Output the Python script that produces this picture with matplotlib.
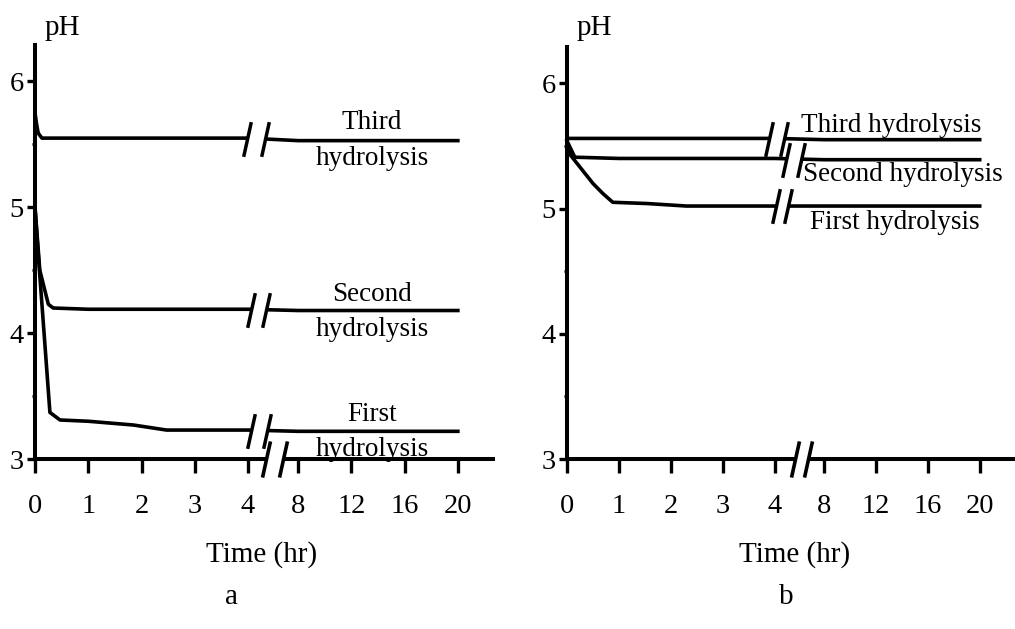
import numpy as np
import matplotlib
matplotlib.use("Agg")
import matplotlib.pyplot as plt
from matplotlib.path import Path

plt.rcParams['font.family'] = ['Liberation Serif', 'DejaVu Serif']

# ---------------- data ----------------
tick_hours = [0, 1, 2, 3, 4, 8, 12, 16, 20]
tick_labels = ["0", "1", "2", "3", "4", "8", "12", "16", "20"]
ph_ticks = [3, 4, 5, 6]

# panel a
time_a_third = [0, 0.03, 0.06, 0.13, 0.3, 1, 2, 3, 4, 8, 12, 16, 20]
ph_a_third = [5.75, 5.66, 5.59, 5.55, 5.55, 5.55, 5.55, 5.55, 5.55, 5.53, 5.53, 5.53, 5.53]
time_a_second = [0, 0.09, 0.25, 0.34, 1, 2, 3, 4, 8, 12, 16, 20]
ph_a_second = [5.0, 4.5, 4.23, 4.2, 4.19, 4.19, 4.19, 4.19, 4.18, 4.18, 4.18, 4.18]
time_a_first = [0, 0.05, 0.28, 0.47, 1, 1.85, 2.47, 3, 4, 8, 12, 16, 20]
ph_a_first = [5.0, 4.69, 3.37, 3.31, 3.3, 3.27, 3.23, 3.23, 3.23, 3.22, 3.22, 3.22, 3.22]

# panel b
time_b_third = [0, 1, 2, 3, 4, 8, 12, 16, 20]
ph_b_third = [5.56, 5.56, 5.56, 5.56, 5.56, 5.55, 5.55, 5.55, 5.55]
time_b_second = [0, 0.15, 1, 2, 3, 4, 8, 12, 16, 20]
ph_b_second = [5.54, 5.41, 5.4, 5.4, 5.4, 5.4, 5.39, 5.39, 5.39, 5.39]
time_b_first = [0, 0.06, 0.5, 0.69, 0.88, 1.54, 2.3, 3.7, 4, 8, 12, 16, 20]
ph_b_first = [5.54, 5.43, 5.2, 5.12, 5.05, 5.04, 5.02, 5.02, 5.02, 5.02, 5.02, 5.02, 5.02]

# ---------------- broken time scale ----------------
A = 0.94   # axis units taken by 4 -> 8 hr
B = 1.0    # axis units per 4 hr after 8 hr


def fwd(t):
    t = np.asarray(t, dtype=float)
    return np.where(t <= 4, t, np.where(t <= 8, 4 + (t - 4) * A / 4, 4 + A + (t - 8) * B / 4))


def inv(u):
    u = np.asarray(u, dtype=float)
    return np.where(u <= 4, u, np.where(u <= 4 + A, 4 + (u - 4) * 4 / A, 8 + (u - 4 - A) * 4 / B))


slash = Path([(-0.22, -1.0), (0.22, 1.0)], [Path.MOVETO, Path.LINETO])

fig = plt.figure(figsize=(10.15, 6.29), dpi=100)


def setup(ax):
    ax.set_xscale('function', functions=(fwd, inv))
    ax.set_xlim(0, float(inv(8.6)))
    ax.set_ylim(3, 6.29)
    for s in ['top', 'right']:
        ax.spines[s].set_visible(False)
    for s in ['left', 'bottom']:
        ax.spines[s].set_linewidth(2.9)
    ax.set_xticks(tick_hours)
    ax.set_xticklabels(tick_labels)
    ax.set_xticks([], minor=True)
    ax.set_yticks(ph_ticks)
    ax.set_yticklabels([str(v) for v in ph_ticks])
    ax.set_yticks([3.5, 4.5, 5.5], minor=True)
    ax.tick_params(axis='x', which='major', direction='out', length=10, width=2.4,
                   pad=15, labelsize=20.5)
    ax.tick_params(axis='y', which='major', direction='out', length=6, width=2.4,
                   pad=2, labelsize=20.5)
    ax.tick_params(axis='y', which='minor', direction='out', length=2.5, width=2.0)
    ax.patch.set_alpha(0)


def broken(ax, t, y, u1, u2, ybreak):
    ax.plot(t, y, color='black', lw=2.6, clip_on=False, zorder=2)
    ax.plot(inv([u1, u2]), [ybreak, ybreak], color='white', lw=7,
            solid_capstyle='butt', zorder=3, clip_on=False)
    ax.plot(inv([u1, u2]), [ybreak, ybreak], ls='none', marker=slash, ms=25,
            mew=2.5, mec='black', mfc='none', zorder=4, clip_on=False)


def axis_break(ax, u1, u2):
    ax.plot(inv([u1, u2]), [3, 3], color='white', lw=7,
            solid_capstyle='butt', zorder=3, clip_on=False)
    ax.plot(inv([u1, u2]), [3, 3], ls='none', marker=slash, ms=26,
            mew=2.6, mec='black', mfc='none', zorder=4, clip_on=False)


# ---------------- panel a ----------------
ax1 = fig.add_axes([35 / 1015, 1 - 459 / 629, 458 / 1015, 414 / 629])
setup(ax1)
broken(ax1, time_a_third, ph_a_third, 3.99, 4.32, 5.54)
broken(ax1, time_a_second, ph_a_second, 4.06, 4.33, 4.185)
broken(ax1, time_a_first, ph_a_first, 4.06, 4.36, 3.225)
axis_break(ax1, 4.34, 4.66)
lab_kw = dict(ha='center', va='center', fontsize=19.5, linespacing=1.55, zorder=5)
ax1.text(13.55, 5.53, "Third\nhydrolysis", **lab_kw)
ax1.text(13.55, 4.17, "Second\nhydrolysis", **lab_kw)
ax1.text(13.55, 3.215, "First\nhydrolysis", **lab_kw)

# ---------------- panel b ----------------
ax2 = fig.add_axes([567 / 1015, 1 - 459 / 629, 447 / 1015, 412 / 629])
setup(ax2)
broken(ax2, time_b_third, ph_b_third, 3.88, 4.17, 5.555)
broken(ax2, time_b_second, ph_b_second, 4.21, 4.5, 5.39)
broken(ax2, time_b_first, ph_b_first, 4.03, 4.25, 5.02)
axis_break(ax2, 4.38, 4.63)
lab_b = dict(ha='center', va='center', fontsize=19.5, zorder=5)
ax2.text(13.2, 5.66, "Third hydrolysis", **lab_b)
ax2.text(14.1, 5.27, "Second hydrolysis", **lab_b)
ax2.text(13.5, 4.89, "First hydrolysis", **lab_b)

# ---------------- figure texts ----------------
fig.text(45 / 1015, 1 - 35 / 629, "pH", ha='left', va='baseline', fontsize=21)
fig.text(577 / 1015, 1 - 35 / 629, "pH", ha='left', va='baseline', fontsize=21)
fig.text(262 / 1015, 1 - 555 / 629, "Time (hr)", ha='center', va='center', fontsize=21)
fig.text(795 / 1015, 1 - 555 / 629, "Time (hr)", ha='center', va='center', fontsize=21)
fig.text(232 / 1015, 1 - 597 / 629, "a", ha='center', va='center', fontsize=21)
fig.text(786 / 1015, 1 - 597 / 629, "b", ha='center', va='center', fontsize=21)

fig.savefig("out.png", dpi=100, facecolor='white')
